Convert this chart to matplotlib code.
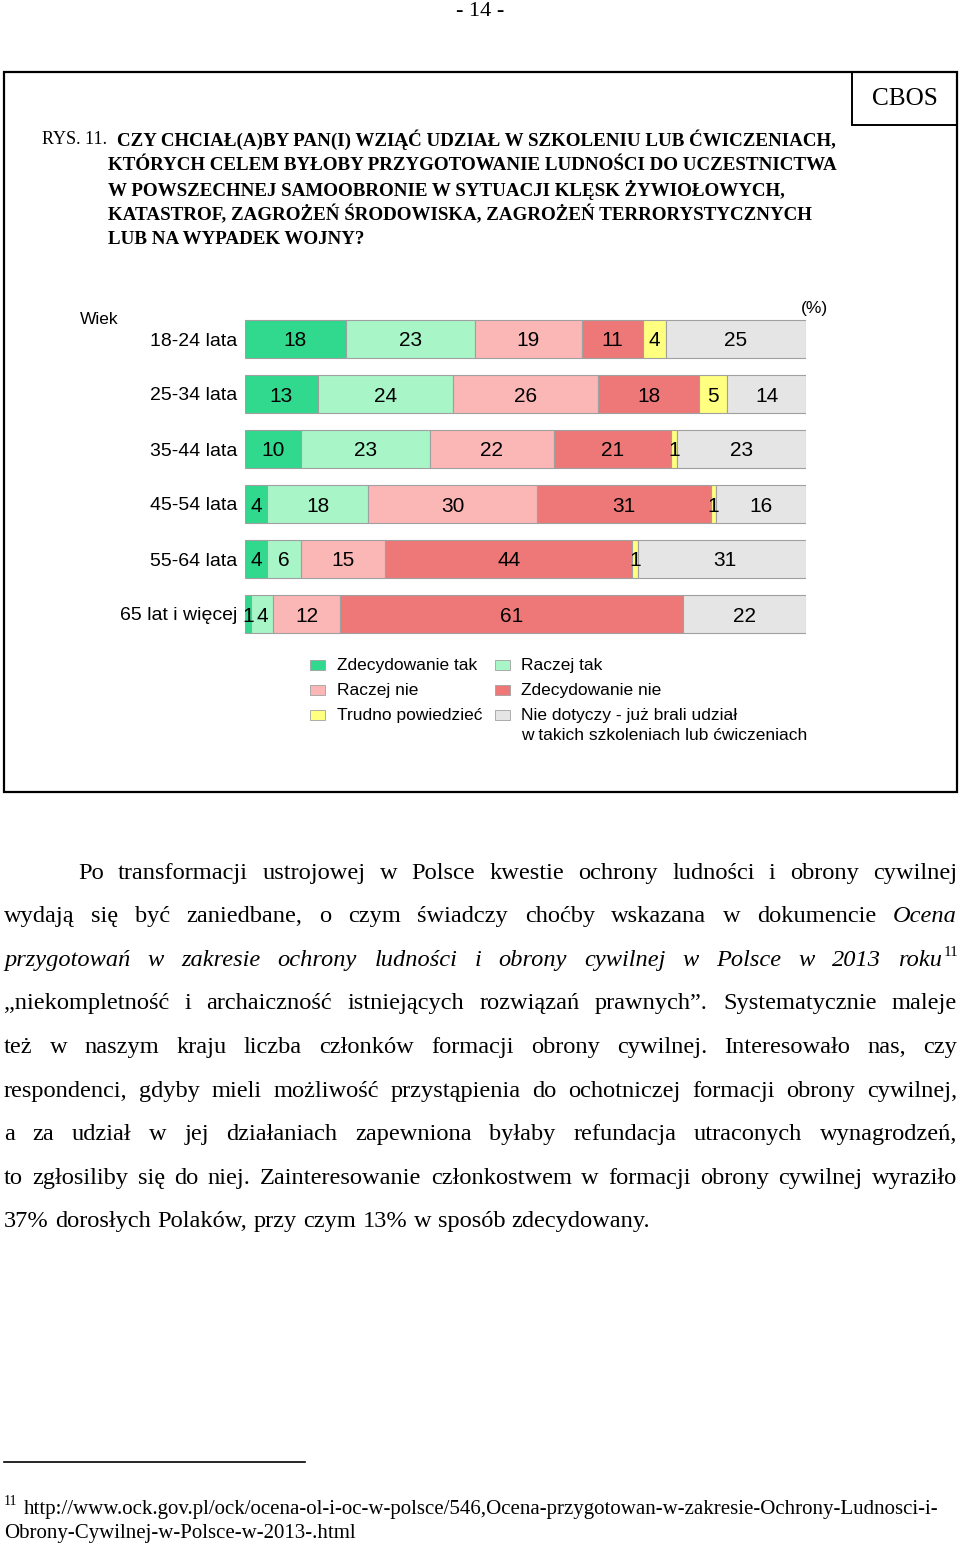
import matplotlib
matplotlib.use('Agg')
import matplotlib.pyplot as plt
from matplotlib.patches import Rectangle
import numpy as np

# ---------------- data ----------------
categories = ["18-24 lata", "25-34 lata", "35-44 lata", "45-54 lata", "55-64 lata", "65 lat i więcej"]
series_names = ["Zdecydowanie tak", "Raczej tak", "Raczej nie", "Zdecydowanie nie",
                "Trudno powiedzieć", "Nie dotyczy - już brali udział\nw takich szkoleniach lub ćwiczeniach"]
zdecydowanie_tak = [18, 13, 10, 4, 4, 1]
raczej_tak = [23, 24, 23, 18, 6, 4]
raczej_nie = [19, 26, 22, 30, 15, 12]
zdecydowanie_nie = [11, 18, 21, 31, 44, 61]
trudno_powiedziec = [4, 5, 1, 1, 1, 0]
nie_dotyczy = [25, 14, 23, 16, 31, 22]
series_values = [zdecydowanie_tak, raczej_tak, raczej_nie, zdecydowanie_nie, trudno_powiedziec, nie_dotyczy]
colors = ["#30D98E", "#A8F5C8", "#FBB6B6", "#EE7878", "#FFFF80", "#E5E5E5"]

title_lines = [
    "CZY CHCIAŁ(A)BY PAN(I) WZIĄĆ UDZIAŁ W SZKOLENIU LUB ĆWICZENIACH,",
    "KTÓRYCH CELEM BYŁOBY PRZYGOTOWANIE LUDNOŚCI DO UCZESTNICTWA",
    "W POWSZECHNEJ SAMOOBRONIE W SYTUACJI KLĘSK ŻYWIOŁOWYCH,",
    "KATASTROF, ZAGROŻEŃ ŚRODOWISKA, ZAGROŻEŃ TERRORYSTYCZNYCH",
    "LUB NA WYPADEK WOJNY?",
]

paragraph = [
    [("Po transformacji ustrojowej w Polsce kwestie ochrony ludności i obrony cywilnej", 'n')],
    [("wydają się być zaniedbane, o czym świadczy choćby wskazana w dokumencie ", 'n'), ("Ocena", 'i')],
    [("przygotowań w zakresie ochrony ludności i obrony cywilnej w Polsce w 2013 roku", 'i'), ("11", 'sup')],
    [("„niekompletność i archaiczność istniejących rozwiązań prawnych”. Systematycznie maleje", 'n')],
    [("też w naszym kraju liczba członków formacji obrony cywilnej. Interesowało nas, czy", 'n')],
    [("respondenci, gdyby mieli możliwość przystąpienia do ochotniczej formacji obrony cywilnej,", 'n')],
    [("a za udział w jej działaniach zapewniona byłaby refundacja utraconych wynagrodzeń,", 'n')],
    [("to zgłosiliby się do niej. Zainteresowanie członkostwem w formacji obrony cywilnej wyraziło", 'n')],
    [("37% dorosłych Polaków, przy czym 13% w sposób zdecydowany.", 'n')],
]
footnote_lines = [
    "http://www.ock.gov.pl/ock/ocena-ol-i-oc-w-polsce/546,Ocena-przygotowan-w-zakresie-Ochrony-Ludnosci-i-",
    "Obrony-Cywilnej-w-Polsce-w-2013-.html",
]

# ---------------- figure ----------------
W, H = 960, 1545
fig = plt.figure(figsize=(9.6, 15.45), dpi=100)
bg = fig.add_axes([0, 0, 1, 1])
bg.set_xlim(0, W)
bg.set_ylim(H, 0)
bg.axis('off')
renderer = fig.canvas.get_renderer()
SERIF = 'Liberation Serif'
SANS = 'Liberation Sans'


def width(t):
    return t.get_window_extent(renderer=renderer).width


def fit(t, target):
    w = width(t)
    t.set_fontsize(t.get_fontsize() * target / w)
    return t


# page number
bg.text(480, 12, "- 14 -", fontsize=16, family=SERIF, ha='center', va='center')

# frames
bg.add_patch(Rectangle((4, 72), 953, 720, fill=False, lw=1.6, ec='black'))
bg.add_patch(Rectangle((852, 72), 105, 53, fill=False, lw=1.4, ec='black'))
cb = bg.text(904.5, 99, "CBOS", fontsize=18, family=SERIF, ha='center', va='center')
fit(cb, 66)

# title
t0 = bg.text(108, 215, title_lines[1], fontsize=14, family=SERIF, weight='bold', va='center')
fit(t0, 732)
tsize = t0.get_fontsize()
t0.remove()
bg.text(42, 140, "RYS. 11.", fontsize=tsize * 0.95, family=SERIF, va='center')
bg.text(117, 140, title_lines[0], fontsize=tsize, family=SERIF, weight='bold', va='center')
for i, line in enumerate(title_lines[1:]):
    bg.text(108, 165 + 25 * i, line, fontsize=tsize, family=SERIF, weight='bold', va='center')

# ---------------- bar chart ----------------
x0, x1 = 245, 806
ytop, ybot = 311.5, 641.5
ax = fig.add_axes([x0 / W, 1 - ybot / H, (x1 - x0) / W, (ybot - ytop) / H])
ax.set_xlim(0, 100)
ax.set_ylim(len(categories) - 0.5, -0.5)
ax.axis('off')
ypos = np.arange(len(categories))
left = np.zeros(len(categories))
for vals, col in zip(series_values, colors):
    vals = np.array(vals, dtype=float)
    ax.barh(ypos, vals, left=left, height=0.69, color=col, edgecolor='#A0A0A0', lw=0.8)
    for yi, (l, v) in enumerate(zip(left, vals)):
        if v > 0:
            ax.text(l + v / 2, yi, f"{int(v)}", ha='center', va='center_baseline', fontsize=15, family=SANS)
    left += vals
for yi, c in enumerate(categories):
    ax.text(-1.4, yi, c, ha='right', va='center_baseline', fontsize=14, family=SANS)

bg.text(80, 318, "Wiek", fontsize=12.5, family=SANS, va='center_baseline')
bg.text(814, 307, "(%)", fontsize=12.5, family=SANS, va='center_baseline', ha='center')

# legend (manual)
leg_pos = [(310, 665), (495, 665), (310, 690), (495, 690), (310, 715), (495, 715)]
leg_order = [0, 1, 2, 3, 4, 5]
for (lx, ly), k in zip(leg_pos, leg_order):
    bg.add_patch(Rectangle((lx, ly - 5), 15, 10, fc=colors[k], ec='#A0A0A0', lw=0.6))
    bg.text(lx + 27 - (1 if lx > 400 else 0), ly - 7, series_names[k], fontsize=12.5, family=SANS,
            va='top', ha='left', linespacing=1.4)

# ---------------- paragraph (justified) ----------------
PAR_LEFT, PAR_RIGHT = 4, 957
line_y = [871, 914, 958, 1001, 1045, 1089, 1132, 1176, 1219]


def to_words(segments):
    words = []
    glue = False
    for s, st in segments:
        parts = s.split(' ')
        for j, p in enumerate(parts):
            if p == '':
                glue = False
                continue
            if j == 0 and glue and words:
                words[-1].append((p, st))
            else:
                words.append([(p, st)])
            glue = True
        if s.endswith(' '):
            glue = False
    return words


def make_word(word, size):
    arts = []
    w = 0
    for s, st in word:
        fs = size * 0.62 if st == 'sup' else size
        t = bg.text(0, 0, s, fontsize=fs, family=SERIF,
                    fontstyle='italic' if st == 'i' else 'normal', va='baseline', ha='left')
        arts.append((t, st, w))
        w += width(t)
    return arts, w


base_size = 17.6
space_px = lambda size: size * 100 / 72 * 0.25
all_words = [to_words(seg) for seg in paragraph]
ratio = 1.0
for i, words in enumerate(all_words[:-1]):
    lx = 78 if i == 0 else PAR_LEFT
    tot = 0
    for wd in words:
        arts, w = make_word(wd, base_size)
        tot += w
        for a in arts:
            a[0].remove()
    need = tot + (len(words) - 1) * space_px(base_size)
    ratio = min(ratio, (PAR_RIGHT - lx) / need)
psize = base_size * min(1.0, ratio)

for i, words in enumerate(all_words):
    lx = 78 if i == 0 else PAR_LEFT
    yb = line_y[i] + 8
    built = [make_word(wd, psize) for wd in words]
    tot = sum(w for _, w in built)
    if i < len(all_words) - 1:
        gap = (PAR_RIGHT - lx - tot) / (len(words) - 1)
    else:
        gap = space_px(psize) * 1.05
    x = lx
    for arts, w in built:
        for t, st, off in arts:
            if st == 'sup':
                t.set_position((x + off + 1, yb - psize * 0.55))
            else:
                t.set_position((x + off, yb))
        x += w + gap

# ---------------- footnote ----------------
bg.plot([4, 305], [1462, 1462], color='black', lw=1.2)
bg.text(4, 1505, "11", fontsize=10, family=SERIF, va='baseline')
f1 = bg.text(24, 1514, footnote_lines[0], fontsize=14, family=SERIF, va='baseline')
fit(f1, 921)
bg.text(4, 1538, footnote_lines[1], fontsize=f1.get_fontsize(), family=SERIF, va='baseline')

fig.savefig("out.png", dpi=100)
